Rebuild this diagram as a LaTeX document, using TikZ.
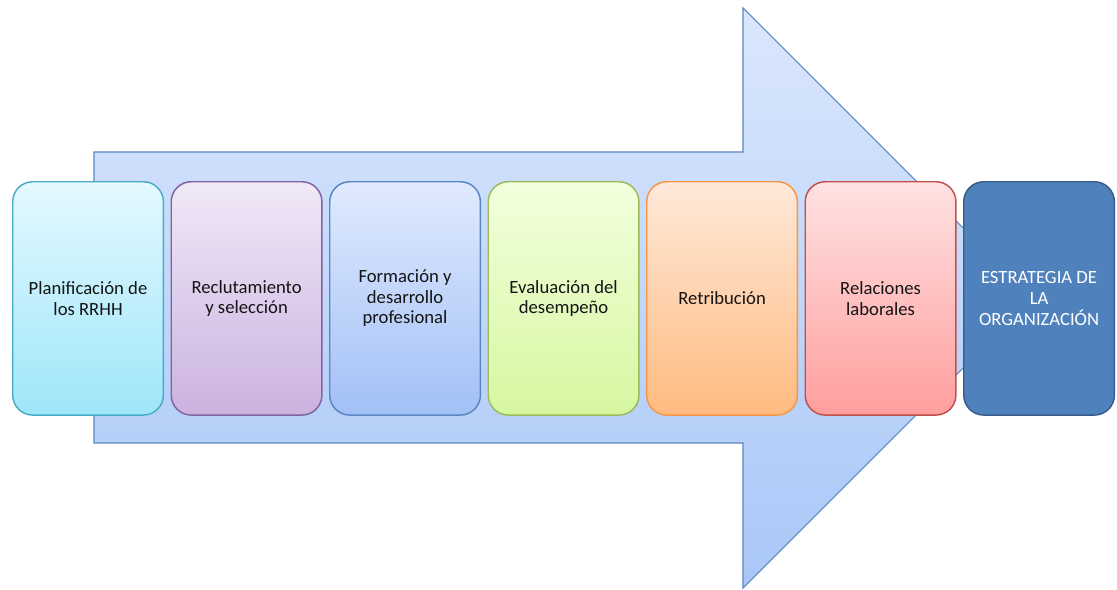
\documentclass[tikz,border=0pt]{standalone}
\usepackage{fontspec}
\setmainfont{Carlito}
\definecolor{arrtop}{HTML}{DAE7FC}
\definecolor{arrbot}{HTML}{A9C7F7}
\definecolor{arredge}{HTML}{5B86C0}
\definecolor{c1t}{HTML}{E4F9FF}\definecolor{c1b}{HTML}{9EE6F9}\definecolor{c1e}{HTML}{4BACC6}
\definecolor{c2t}{HTML}{F0E8F7}\definecolor{c2b}{HTML}{CBB2E0}\definecolor{c2e}{HTML}{8064A2}
\definecolor{c3t}{HTML}{E0EAFE}\definecolor{c3b}{HTML}{A2C0F6}\definecolor{c3e}{HTML}{5B86C0}
\definecolor{c4t}{HTML}{F2FFDE}\definecolor{c4b}{HTML}{D6F7A0}\definecolor{c4e}{HTML}{9BBB59}
\definecolor{c5t}{HTML}{FFE9DA}\definecolor{c5b}{HTML}{FFBB80}\definecolor{c5e}{HTML}{F79646}
\definecolor{c6t}{HTML}{FFE2E2}\definecolor{c6b}{HTML}{FF9E9E}\definecolor{c6e}{HTML}{C0504D}
\definecolor{c7f}{HTML}{4F81BD}\definecolor{c7e}{HTML}{385D8A}
\definecolor{txt}{HTML}{141414}
\begin{document}
\begin{tikzpicture}[x=0.75pt,y=-0.75pt,
  card/.style={rectangle, rounded corners=15pt, anchor=north west,
    minimum width=113pt, minimum height=175pt, line width=1.1pt,
    align=center, font=\fontsize{14}{15.5}\selectfont, text=txt, inner sep=2pt},
  cardc/.style n args={3}{card, draw=#3, top color=#1, bottom color=#2}]
\useasboundingbox (0,0) rectangle (1117,589);
\path[draw=arredge, line width=0.8pt, top color=arrtop, bottom color=arrbot]
  (94,152) -- (743,152) -- (743,8) -- (1033,298) -- (743,588) -- (743,443) -- (94,443) -- cycle;
\node[cardc={c1t}{c1b}{c1e}] (n1) at (12,181) {Planificación de\\los RRHH};
\node[cardc={c2t}{c2b}{c2e}] (n2) at (170.5,181) {Reclutamiento\\y selección};
\node[cardc={c3t}{c3b}{c3e}] (n3) at (329,181) {Formación y\\desarrollo\\profesional};
\node[cardc={c4t}{c4b}{c4e}] (n4) at (487.5,181) {Evaluación del\\desempeño};
\node[cardc={c5t}{c5b}{c5e}] (n5) at (646,181) {Retribución};
\node[cardc={c6t}{c6b}{c6e}] (n6) at (804.5,181) {Relaciones\\laborales};
\node[card, draw=c7e, fill=c7f, text=white] (n7) at (963,181) {ESTRATEGIA DE\\LA\\ORGANIZACIÓN};
\end{tikzpicture}
\end{document}
